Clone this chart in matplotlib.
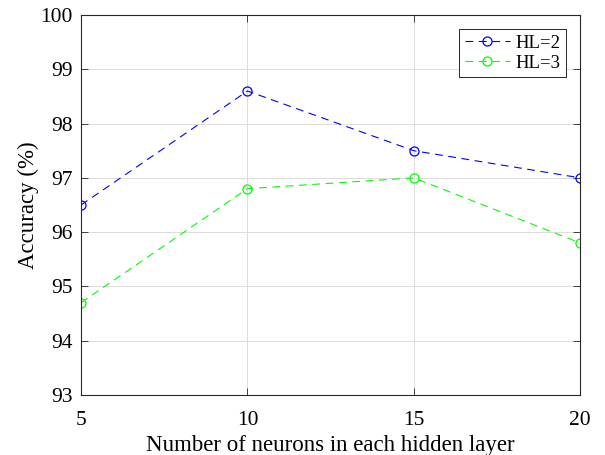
import matplotlib
matplotlib.use('Agg')
import matplotlib.pyplot as plt

neurons = [5, 10, 15, 20]
acc_hl2 = [96.5, 98.6, 97.5, 97.0]
acc_hl3 = [94.7, 96.8, 97.0, 95.8]

plt.rcParams['font.family'] = ['Liberation Serif', 'DejaVu Serif']
plt.rcParams['mathtext.fontset'] = 'stix'

fig = plt.figure(figsize=(6.05, 4.55), dpi=100)
ax = fig.add_axes([0.134, 0.132, 0.825, 0.835])

ax.plot(neurons, acc_hl2, '--o', color='#0000ff', lw=0.8, dashes=(7, 5),
        markersize=6.5, markerfacecolor='none', markeredgewidth=0.9, label='HL=2')
ax.plot(neurons, acc_hl3, '--o', color='#00ff00', lw=0.8, dashes=(7, 5),
        markersize=6.5, markerfacecolor='none', markeredgewidth=0.9, label='HL=3')

ax.set_xlim(5, 20)
ax.set_ylim(93, 100)
ax.set_xticks([5, 10, 15, 20])
ax.set_yticks(range(93, 101))
ax.grid(True, color='#dcdcdc', lw=0.7)
ax.set_axisbelow(True)
ax.tick_params(direction='in', top=True, right=True, labelsize=15.5, length=5,
               width=0.6, color='#262626')
ax.tick_params(axis='x', pad=11.5)
ax.tick_params(axis='y', pad=6)
for sp in ax.spines.values():
    sp.set_color('#262626')
    sp.set_linewidth(0.8)

ax.set_xlabel('Number of neurons in each hidden layer', fontsize=16.5, labelpad=4)
ax.set_ylabel('Accuracy (%)', fontsize=16.5, labelpad=1)

leg = ax.legend(loc='upper right', fontsize=13.5, fancybox=False, framealpha=1,
                edgecolor='#262626', handlelength=2.4, borderpad=0.3,
                labelspacing=0.15, handletextpad=0.3, borderaxespad=0.75)
leg.get_frame().set_linewidth(0.7)

fig.savefig('out.png', dpi=100)
